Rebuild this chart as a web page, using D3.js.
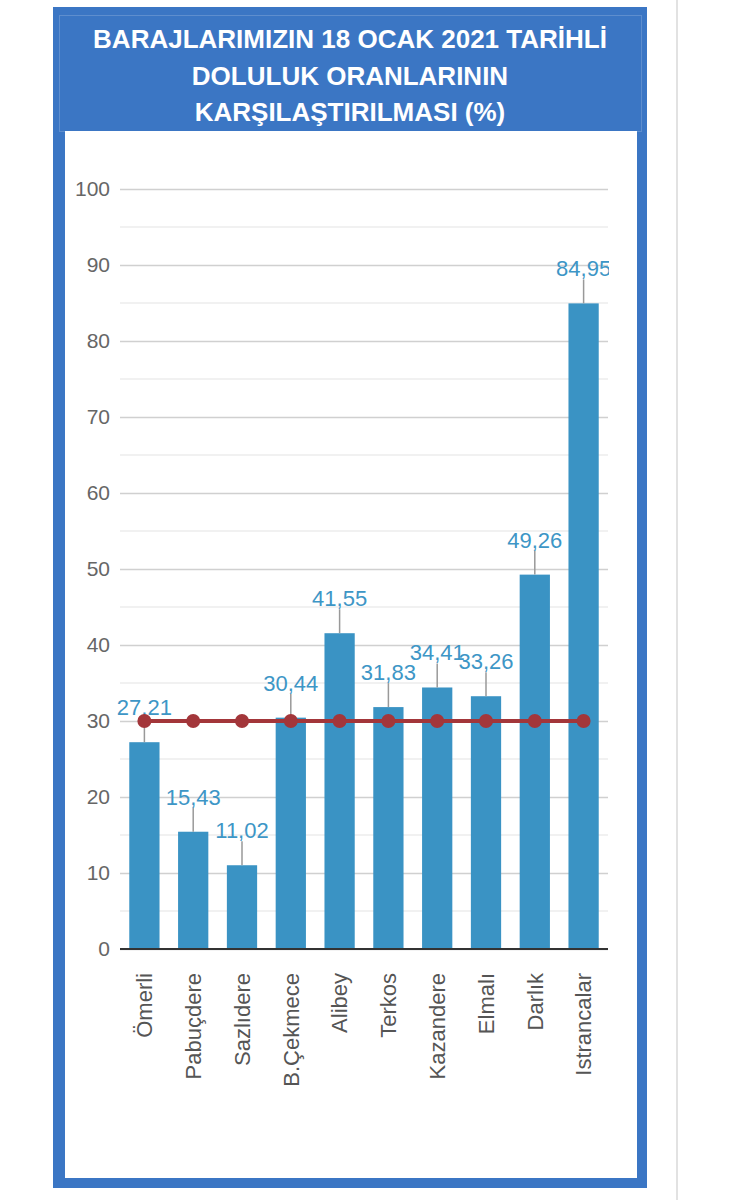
<!DOCTYPE html>
<html>
<head>
<meta charset="utf-8">
<script src="https://cdn.jsdelivr.net/npm/d3@7"></script>
<style>
  body { margin: 0; background: #fff; }
  svg { display: block; font-family: "Liberation Sans", Arial, sans-serif; }
</style>
</head>
<body>
<svg id="chart" width="730" height="1200"></svg>
<script>
const titleLines = ['BARAJLARIMIZIN 18 OCAK 2021 TARİHLİ', 'DOLULUK ORANLARININ', 'KARŞILAŞTIRILMASI (%)'];
const dams = ['Ömerli', 'Pabuçdere', 'Sazlıdere', 'B.Çekmece', 'Alibey', 'Terkos', 'Kazandere', 'Elmalı', 'Darlık', 'Istrancalar'];
const fillRates = [27.21, 15.43, 11.02, 30.44, 41.55, 31.83, 34.41, 33.26, 49.26, 84.95];
const refLine = [30, 30, 30, 30, 30, 30, 30, 30, 30, 30];
const yTicks = [0, 10, 20, 30, 40, 50, 60, 70, 80, 90, 100];
const yMinorTicks = [5, 15, 25, 35, 45, 55, 65, 75, 85, 95];

const svg = d3.select('#chart');
const blue = '#3b76c4';
const barColor = '#3a93c4';
const fontFam = '"Liberation Sans", Arial, sans-serif';

// frame + header
svg.append('line').attr('x1', 677).attr('x2', 677).attr('y1', 0).attr('y2', 1200)
  .attr('stroke', '#e2e2e2').attr('stroke-width', 2);
svg.append('rect').attr('x', 53).attr('y', 7).attr('width', 594).attr('height', 1181).attr('fill', blue);
svg.append('rect').attr('x', 65).attr('y', 131).attr('width', 572).attr('height', 1047).attr('fill', '#fff');
svg.append('rect').attr('x', 59.5).attr('y', 15.5).attr('width', 582).attr('height', 116)
  .attr('fill', 'none').attr('stroke', 'rgba(255,255,255,0.18)');

svg.append('g').selectAll('text')
  .data(titleLines)
  .enter()
  .append('text')
  .attr('x', 350)
  .attr('y', (d, i) => 48 + i * 36.5)
  .attr('text-anchor', 'middle')
  .attr('fill', '#fff')
  .attr('font-weight', 'bold')
  .attr('font-size', 26)
  .text(d => d);

// scales
const x = d3.scaleBand().domain(dams).range([120, 608]).paddingInner(0.38).paddingOuter(0.19);
const y = d3.scaleLinear().domain([0, 100]).range([949, 189]);
const fmt = d3.formatLocale({ decimal: ',', thousands: '.', grouping: [3], currency: ['', ''] }).format('.2f');

// grid
svg.append('g').selectAll('line')
  .data(yMinorTicks)
  .enter()
  .append('line')
  .attr('x1', 120).attr('x2', 608)
  .attr('y1', d => y(d)).attr('y2', d => y(d))
  .attr('stroke', '#ececec').attr('stroke-width', 1.5);

const yAxis = svg.append('g')
  .attr('transform', 'translate(120,0)')
  .call(d3.axisLeft(y).tickValues(yTicks).tickSize(-488).tickPadding(10));
yAxis.select('.domain').remove();
yAxis.selectAll('.tick line').attr('stroke', '#d0d0d0').attr('stroke-width', 1.5);
yAxis.selectAll('.tick text').attr('fill', '#666').attr('font-size', 21)
  .style('font-family', fontFam);

// bars
const cx = d => x(d) + x.bandwidth() / 2;
svg.append('g').selectAll('rect')
  .data(dams)
  .enter()
  .append('rect')
  .attr('x', d => x(d))
  .attr('width', x.bandwidth())
  .attr('y', (d, i) => y(fillRates[i]))
  .attr('height', (d, i) => y(0) - y(fillRates[i]))
  .attr('fill', barColor);

// x axis
const xAxis = svg.append('g')
  .attr('transform', 'translate(0,949)')
  .call(d3.axisBottom(x).tickSize(0).tickPadding(0));
xAxis.select('.domain').attr('stroke', '#333').attr('stroke-width', 2).attr('d', 'M120,0H608');
xAxis.selectAll('.tick text')
  .attr('fill', '#555')
  .attr('font-size', 22)
  .style('font-family', fontFam)
  .attr('text-anchor', 'end')
  .attr('dy', '0.35em')
  .attr('transform', 'translate(0,24) rotate(-90)')
  .attr('y', 0);

// reference line
const line = d3.line().x(d => cx(d)).y((d, i) => y(refLine[i]));
svg.append('path').datum(dams).attr('d', line)
  .attr('fill', 'none').attr('stroke', '#a3363a').attr('stroke-width', 4);

// label leaders + labels (clipped to plot)
svg.append('clipPath').attr('id', 'plotClip')
  .append('rect').attr('x', 65).attr('y', 131).attr('width', 544).attr('height', 1047);
const labels = svg.append('g').attr('clip-path', 'url(#plotClip)');
labels.selectAll('line')
  .data(dams)
  .enter()
  .append('line')
  .attr('x1', cx).attr('x2', cx)
  .attr('y1', (d, i) => y(fillRates[i]))
  .attr('y2', (d, i) => y(fillRates[i]) - 24)
  .attr('stroke', '#999').attr('stroke-width', 1.5);

svg.append('g').selectAll('circle')
  .data(dams)
  .enter()
  .append('circle')
  .attr('cx', cx)
  .attr('cy', (d, i) => y(refLine[i]))
  .attr('r', 7)
  .attr('fill', '#a3363a');

labels.selectAll('text')
  .data(dams)
  .enter()
  .append('text')
  .attr('x', cx)
  .attr('y', (d, i) => y(fillRates[i]) - 27)
  .attr('text-anchor', 'middle')
  .attr('fill', '#3d96c6')
  .attr('font-size', 22)
  .text((d, i) => fmt(fillRates[i]));
</script>
</body>
</html>
